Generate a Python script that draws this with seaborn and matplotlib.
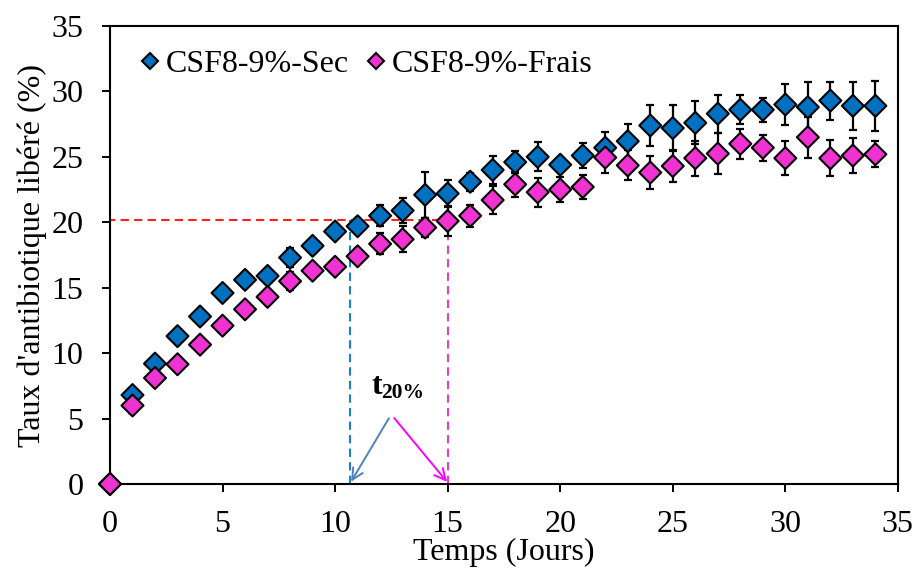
import matplotlib
matplotlib.use("Agg")
import matplotlib.pyplot as plt
import seaborn as sns
import numpy as np
import pandas as pd

# release data (days, % released, std dev)
jours = list(range(0, 35))
sec = [0, 6.8, 9.2, 11.3, 12.8, 14.6, 15.6, 15.9, 17.3, 18.2, 19.3, 19.7, 20.5, 20.9, 22.1,
       22.2, 23.1, 24.0, 24.6, 25.0, 24.4, 25.1, 25.7, 26.2, 27.4, 27.2, 27.6, 28.3, 28.6,
       28.6, 29.0, 28.8, 29.3, 28.9, 28.9]
sec_err = [0, 0.3, 0.3, 0.3, 0.3, 0.3, 0.3, 0.3, 0.7, 0.55, 0.4, 0.5, 0.8, 0.95, 1.75,
           1.0, 0.7, 1.05, 0.85, 1.1, 0.5, 0.95, 1.2, 1.3, 1.6, 1.75, 1.65, 1.45, 1.1,
           0.9, 1.55, 1.9, 1.45, 1.85, 1.9]
frais = [0, 6.0, 8.1, 9.15, 10.65, 12.1, 13.35, 14.3, 15.5, 16.3, 16.6, 17.4, 18.35, 18.7, 19.6,
         20.1, 20.5, 21.7, 22.9, 22.3, 22.5, 22.7, 24.95, 24.35, 23.8, 24.3, 24.9, 25.25, 26.0,
         25.7, 24.9, 26.5, 24.9, 25.1, 25.2]
frais_err = [0, 0.6, 0.3, 0.3, 0.3, 0.3, 0.3, 0.3, 0.7, 0.5, 0.3, 0.4, 0.8, 1.0, 0.75,
             1.15, 0.85, 1.05, 0.95, 1.1, 0.95, 0.95, 1.2, 1.15, 1.25, 1.25, 1.35, 1.55, 1.15,
             1.0, 1.3, 1.55, 1.4, 1.35, 1.0]

series_names = ["CSF8-9%-Sec", "CSF8-9%-Frais"]
colors = ["#0070C0", "#F032D2"]

seuil = 20.2          # 20 % release level
t20_sec = 10.65
t20_frais = 15.0

df = pd.DataFrame({
    "Jours": jours * 2,
    "Taux": sec + frais,
    "err": sec_err + frais_err,
    "Echantillon": [series_names[0]] * len(jours) + [series_names[1]] * len(jours),
})

sns.set_style("ticks")
plt.rcParams["font.family"] = ["Liberation Serif", "DejaVu Serif"]
for k in ["text.color", "axes.labelcolor", "xtick.color", "ytick.color", "axes.edgecolor"]:
    plt.rcParams[k] = "black"

fs = 23

fig = plt.figure(figsize=(9.15, 5.68), dpi=100)
ax = fig.add_axes([0.1202, 0.1479, 0.8611, 0.8063])

# error bars under the markers
for name in series_names:
    d = df[df["Echantillon"] == name]
    ax.errorbar(d["Jours"], d["Taux"], yerr=d["err"], fmt="none", ecolor="black",
                elinewidth=1.6, capsize=3.2, capthick=1.6, zorder=2)

sns.scatterplot(data=df, x="Jours", y="Taux", hue="Echantillon", palette=colors,
                marker="D", s=125, edgecolor="black", linewidth=1.5, ax=ax, zorder=3,
                clip_on=False)

# guide lines for t20%
ax.plot([-0.15, t20_frais], [seuil, seuil], color="#FF2020", lw=1.5, ls=(0, (4, 2.5)), zorder=1)
ax.plot([t20_sec, t20_sec], [0, seuil], color="#1A7FD0", lw=1.5, ls=(0, (4, 2.5)), zorder=1)
ax.plot([t20_frais, t20_frais], [0, seuil], color="#E040D0", lw=1.5, ls=(0, (4, 2.5)), zorder=1)

ax.annotate("", xy=(t20_sec, 0), xytext=(12.45, 5.2),
            arrowprops=dict(arrowstyle="->", color="#4F81BD", lw=1.4, mutation_scale=20))
ax.annotate("", xy=(t20_frais + 0.05, 0), xytext=(12.55, 5.2),
            arrowprops=dict(arrowstyle="->", color="#FF00FF", lw=1.4, mutation_scale=20))
ax.text(11.6, 6.9, "t", fontsize=23, fontweight="bold", ha="left", va="baseline")
ax.text(12.05, 6.55, "20%", fontsize=15.5, fontweight="bold", ha="left", va="baseline")

ax.set_xlim(0, 35)
ax.set_ylim(0, 35)
ax.set_xticks(range(0, 36, 5))
ax.set_yticks(range(0, 36, 5))
ax.set_xlabel("Temps (Jours)", fontsize=fs, labelpad=-1)
ax.set_ylabel("Taux d'antibiotique libéré (%)", fontsize=fs, labelpad=3)
ax.tick_params(axis="both", labelsize=fs, direction="out", length=6, width=1.4, pad=13)
for sp in ax.spines.values():
    sp.set_linewidth(1.5)

sns.move_legend(ax, "upper left", ncol=2, frameon=False, title=None, fontsize=fs,
                bbox_to_anchor=(0.0, 1.0), handlelength=1.0, handletextpad=0.0,
                columnspacing=0.35, markerscale=0.75, borderaxespad=0.35)

fig.savefig("out.png", dpi=100)
